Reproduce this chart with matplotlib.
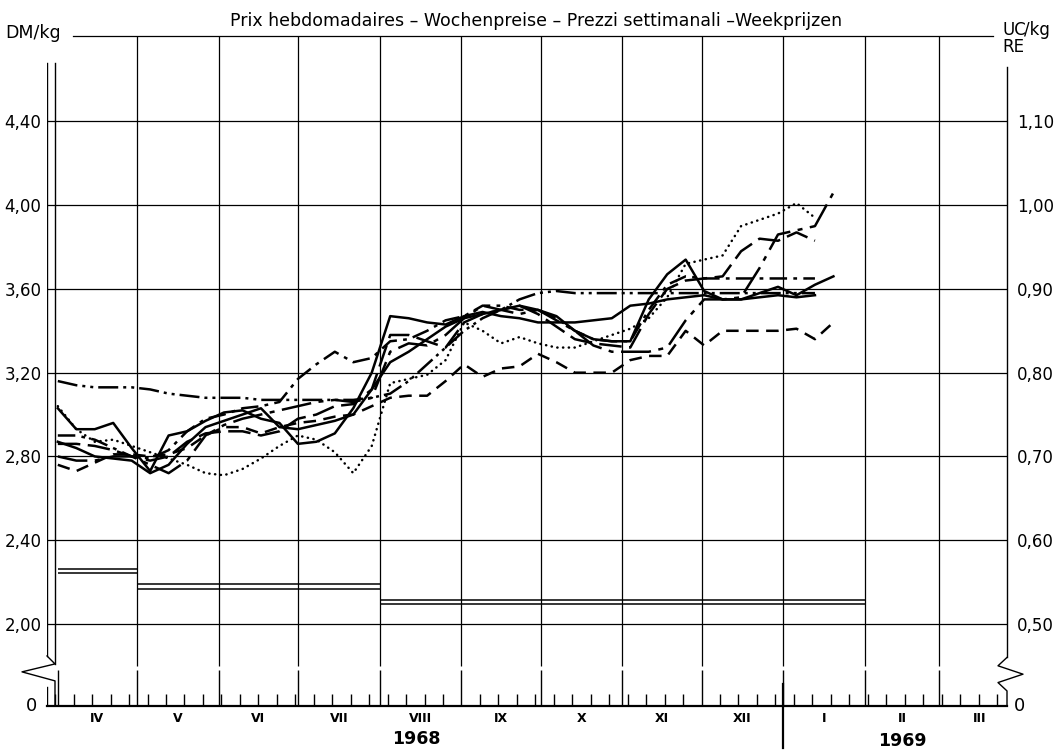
import numpy as np
import pandas as pd
import matplotlib
matplotlib.use("Agg")
import matplotlib.pyplot as plt
import matplotlib.dates as mdates

plt.rcParams['font.family'] = ['DejaVu Sans']

# weekly quotations, DM/kg, starting first week of April 1968
weeks = pd.date_range('1968-04-01', periods=43, freq='7D')

s_dashdotdot = [3.16, 3.14, 3.13, 3.13, 3.13, 3.12, 3.10, 3.09, 3.08, 3.08, 3.08, 3.07, 3.07, 3.07,
                3.07, 3.07, 3.07, 3.08, 3.10, 3.16, 3.24, 3.32, 3.40, 3.46, 3.50, 3.55, 3.58, 3.59,
                3.58, 3.58, 3.58, 3.58, 3.58, 3.58, 3.58, 3.58, 3.58, 3.58, 3.58, 3.58, 3.58, 3.58]
s_dotted = [3.04, 2.93, 2.87, 2.88, 2.85, 2.82, 2.79, 2.76, 2.72, 2.71, 2.74, 2.79, 2.85, 2.90,
            2.88, 2.82, 2.72, 2.85, 3.15, 3.17, 3.19, 3.26, 3.44, 3.40, 3.34, 3.37, 3.34, 3.32,
            3.32, 3.35, 3.38, 3.41, 3.46, 3.56, 3.72, 3.74, 3.76, 3.90, 3.93, 3.96, 4.01, 3.94]
s_solid_a = [3.03, 2.93, 2.93, 2.96, 2.84, 2.73, 2.90, 2.92, 2.97, 3.01, 3.02, 2.98, 2.96, 2.86,
             2.87, 2.91, 3.03, 3.20, 3.47, 3.46, 3.44, 3.43, 3.47, 3.49, 3.47, 3.46, 3.44, 3.44,
             3.44, 3.45, 3.46, 3.52, 3.53, 3.55, 3.56, 3.57, 3.55, 3.55, 3.58, 3.61, 3.57, 3.62, 3.66]
s_solid_b = [2.87, 2.84, 2.80, 2.79, 2.78, 2.72, 2.76, 2.86, 2.94, 2.97, 3.00, 3.03, 2.94, 2.93,
             2.95, 2.97, 3.00, 3.12, 3.25, 3.30, 3.36, 3.42, 3.46, 3.48, 3.50, 3.52, 3.50, 3.47,
             3.40, 3.36, 3.35, 3.35, 3.55, 3.67, 3.74, 3.59, 3.55, 3.55, 3.56, 3.57, 3.56, 3.57]
s_dashdot = [2.90, 2.90, 2.88, 2.84, 2.80, 2.79, 2.83, 2.92, 2.98, 3.00, 3.03, 3.04, 3.06, 3.17,
             3.24, 3.30, 3.25, 3.27, 3.35, 3.36, 3.40, 3.45, 3.47, 3.52, 3.52, 3.50, 3.50, 3.46,
             3.40, 3.36, 3.35, 3.35, 3.50, 3.62, 3.66, 3.65, 3.65, 3.65, 3.65, 3.65, 3.65, 3.65]
s_longdash = [2.86, 2.86, 2.85, 2.83, 2.80, 2.78, 2.80, 2.87, 2.91, 2.92, 2.92, 2.90, 2.92, 2.98,
              3.00, 3.04, 3.05, 3.12, 3.38, 3.38, 3.35, 3.32, 3.44, 3.48, 3.50, 3.52, 3.48, 3.42,
              3.36, 3.34, 3.33, 3.32, 3.48, 3.60, 3.64, 3.65, 3.66, 3.78, 3.84, 3.83, 3.87, 3.83]
s_dashed = [2.76, 2.73, 2.77, 2.81, 2.81, 2.80, 2.81, 2.84, 2.90, 2.94, 2.94, 2.91, 2.94, 2.96,
            2.97, 2.99, 3.00, 3.04, 3.08, 3.09, 3.09, 3.16, 3.24, 3.18, 3.22, 3.23, 3.29, 3.25,
            3.20, 3.20, 3.20, 3.26, 3.28, 3.28, 3.40, 3.33, 3.40, 3.40, 3.40, 3.40, 3.41, 3.36, 3.44]
s_longdashdot = [2.80, 2.78, 2.78, 2.80, 2.80, 2.76, 2.72, 2.78, 2.90, 2.95, 2.98, 3.00, 3.02, 3.04,
                 3.06, 3.07, 3.06, 3.08, 3.30, 3.34, 3.33, 3.38, 3.46, 3.52, 3.50, 3.48, 3.50, 3.45,
                 3.40, 3.33, 3.30, 3.30, 3.30, 3.32, 3.45, 3.55, 3.55, 3.56, 3.70, 3.86, 3.88, 3.90, 4.06]

# reference price levels (double lines at the bottom)
band_start = ['1968-04-01', '1968-05-01', '1968-08-01']
band_end = ['1968-05-01', '1968-08-01', '1969-02-01']
band_upper = [2.263, 2.191, 2.115]
band_lower = [2.244, 2.167, 2.095]

dm_ticks = [2.00, 2.40, 2.80, 3.20, 3.60, 4.00, 4.40]
uc_ticks = [0.50, 0.60, 0.70, 0.80, 0.90, 1.00, 1.10]
month_names = ['IV', 'V', 'VI', 'VII', 'VIII', 'IX', 'X', 'XI', 'XII', 'I', 'II', 'III']

DOTS = (0, (0.1, 2.2))
series = [
    (s_dashdotdot, (0, (8, 2, 1.2, 2, 1.2, 2))),
    (s_dotted, DOTS),
    (s_solid_a, '-'),
    (s_solid_b, '-'),
    (s_dashdot, (0, (7, 2.5, 1.5, 2.5))),
    (s_longdash, (0, (9, 3))),
    (s_dashed, (0, (5, 3))),
    (s_longdashdot, (0, (12, 3, 2, 3))),
]

fig = plt.figure(figsize=(10.64, 7.53), dpi=100)
ax = fig.add_axes([47 / 1064, 47 / 753, 960 / 1064, 670 / 753])

d0 = mdates.date2num(pd.Timestamp('1968-04-01'))
x0, x1 = d0 - 4.1, d0 + 359.8
y0, y1 = 1.608, 4.808
ax.set_xlim(x0, x1)
ax.set_ylim(y0, y1)
px = (x1 - x0) / 960  # days per pixel
py = (y1 - y0) / 670  # DM per pixel

for sp in ['top', 'left', 'right']:
    ax.spines[sp].set_visible(False)
ax.spines['bottom'].set_linewidth(1.6)

# grid
month_starts = pd.date_range('1968-05-01', periods=11, freq='MS')
ax.vlines(month_starts, 1.80, y1, color='black', lw=0.9)
ax.hlines(dm_ticks, x0, x1, color='black', lw=0.9)
ax.plot([x0 + 26 * px, x1 - 14 * px], [y1, y1], color='black', lw=0.9, clip_on=False)

# double axis lines on the left, single on the right, with breaks
xi = x0 + 8 * px
ax.plot([x0, x0], [1.847, 4.68], color='black', lw=1.0)
ax.plot([xi, xi], [1.809, 4.68], color='black', lw=1.0)
ax.plot([x0, xi, x0 - 25 * px, xi, xi], [1.847, 1.809, 1.771, 1.728, y0],
        color='black', lw=1.0, clip_on=False)
ax.plot([x0, x0], [1.70, y0], color='black', lw=1.0)
ax.plot([x1, x1], [1.84, 4.66], color='black', lw=1.0, clip_on=False)
ax.plot([x1, x1 - 9 * px, x1 + 16 * px, x1 - 9 * px, x1, x1], [1.84, 1.80, 1.76, 1.72, 1.68, y0],
        color='black', lw=1.0, clip_on=False)

# price bands
for bs, be, bu, bl in zip(band_start, band_end, band_upper, band_lower):
    ax.hlines([bu, bl], pd.Timestamp(bs), pd.Timestamp(be), color='black', lw=1.1)

# weekly series
for vals, ls in series:
    ax.plot(weeks[:len(vals)], vals, color='black', lw=1.8, linestyle=ls,
            dash_capstyle='round' if ls == DOTS else 'butt')

# x ticks
ax.xaxis.set_major_locator(mdates.MonthLocator())
ax.xaxis.set_minor_locator(mdates.WeekdayLocator(byweekday=mdates.SU))
ax.tick_params(axis='x', which='major', direction='in', length=26, width=1.0, labelbottom=False)
ax.tick_params(axis='x', which='minor', direction='in', length=9, width=1.0)

# year separator
jan1 = pd.Timestamp('1969-01-01')
ax.plot([jan1, jan1], [1.713, y0 - 42 * py], color='black', lw=1.6, clip_on=False)

# month labels
edges = list(pd.date_range('1968-04-01', periods=13, freq='MS'))
for i, name in enumerate(month_names):
    mid = edges[i] + (edges[i + 1] - edges[i]) / 2
    ax.text(mid, y0 - 6 * py, name, ha='center', va='top', fontsize=9, fontweight='bold')
ax.text(pd.Timestamp('1968-08-15'), y0 - 24 * py, '1968', ha='center', va='top',
        fontsize=12.5, fontweight='bold')
ax.text(pd.Timestamp('1969-02-15'), y0 - 26 * py, '1969', ha='center', va='top',
        fontsize=12.5, fontweight='bold')

# y ticks
ax.set_yticks(dm_ticks)
ax.set_yticklabels([f'{v:.2f}'.replace('.', ',') for v in dm_ticks], fontsize=12)
ax.tick_params(axis='y', length=0, pad=4)
ax.text(x0 - 10 * px, y0, '0', ha='right', va='center', fontsize=13)

sec = ax.secondary_yaxis('right', functions=(lambda d: d / 4, lambda u: u * 4))
sec.set_yticks(uc_ticks)
sec.set_yticklabels([f'{v:.2f}'.replace('.', ',') for v in uc_ticks], fontsize=12)
sec.tick_params(length=0, pad=7)
sec.spines['right'].set_visible(False)
ax.text(x1 + 7 * px, y0, '0', ha='left', va='center', fontsize=13)

# headers
fig.text(5 / 1064, 1 - 33 / 753, 'DM/kg', ha='left', va='center', fontsize=12.5)
fig.text(1002 / 1064, 1 - 30 / 753, 'UC', ha='left', va='center', fontsize=12)
fig.text(1002 / 1064, 1 - 47 / 753, 'RE', ha='left', va='center', fontsize=12)
fig.text(1024 / 1064, 1 - 30 / 753, '/kg', ha='left', va='center', fontsize=12)
fig.text(536 / 1064, 1 - 21 / 753,
         'Prix hebdomadaires – Wochenpreise – Prezzi settimanali –Weekprijzen',
         ha='center', va='center', fontsize=12.5)

fig.savefig('out.png', dpi=100)
